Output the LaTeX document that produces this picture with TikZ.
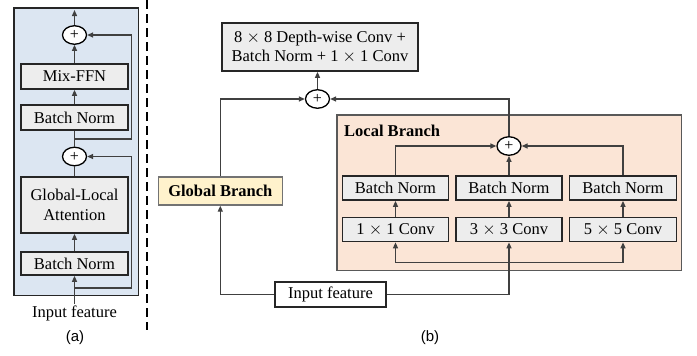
\documentclass[tikz,border=0pt]{standalone}
\usepackage{fontspec}
\setmainfont{Liberation Serif}
\setsansfont{Liberation Sans}
\usetikzlibrary{shapes.geometric,arrows.meta}
\definecolor{panelblue}{HTML}{DCE6F2}
\definecolor{boxgray}{HTML}{EDEDED}
\definecolor{peach}{HTML}{FBE5D6}
\definecolor{paleyellow}{HTML}{FFF2CC}
\definecolor{linegray}{HTML}{404040}
\tikzset{
  txt/.style={font=\fontsize{16.5}{19.5}\selectfont},
  gbox/.style={txt, draw=black!85, line width=1.7pt, fill=boxgray, inner sep=0pt, align=center},
  plusnode/.style={ellipse, draw=black, line width=1.3pt, fill=white, minimum width=24pt, minimum height=18.5pt, inner sep=0pt, font=\fontsize{16}{16}\selectfont},
  conn/.style={draw=linegray, line width=1.3pt},
  arr/.style={conn, -{Triangle[length=6pt,width=5pt]}},
}
\begin{document}
\begin{tikzpicture}[x=1pt,y=-1pt]
\useasboundingbox (0,0) rectangle (697,356);
% ---------- panel (a)
\draw[fill=panelblue, draw=black!85, line width=1.7pt] (14,8) rectangle (138.5,295.5);
\node[gbox, minimum width=107pt, minimum height=25pt] (mix) at (74.5,76.5) {Mix-FFN};
\node[gbox, minimum width=107pt, minimum height=25pt] (bnA1) at (74.5,117.5) {Batch Norm};
\node[gbox, minimum width=107pt, minimum height=56pt] (gla) at (74.5,205) {Global-Local\\Attention};
\node[gbox, minimum width=107pt, minimum height=23pt] (bnA2) at (74.5,263.5) {Batch Norm};
\node[plusnode] (pA1) at (74.5,35) {+};
\node[plusnode] (pA2) at (74.5,156.5) {+};
\node[txt, inner sep=1pt] (inA) at (74.5,313) {Input feature};
\node[font=\sffamily\fontsize{15}{15}\selectfont] (labA) at (75,338) {(a)};
\coordinate (j1) at (74.5,288);
\coordinate (j2) at (74.5,139);
\coordinate (topA) at (74.5,10);
\draw[arr] (inA.north) -- (bnA2.south);
\draw[arr] (j1) -- (131.5,288) |- (pA2.east);
\draw[arr] (bnA2.north) -- (gla.south);
\draw[conn] (gla.north) -- (pA2.south);
\draw[conn] (pA2.north) -- (bnA1.south);
\draw[arr] (j2) -- (131.5,139) |- (pA1.east);
\draw[arr] (bnA1.north) -- (mix.south);
\draw[arr] (mix.north) -- (pA1.south);
\draw[arr] (pA1.north) -- (topA);
% ---------- separator
\draw[black, line width=1.7pt, dash pattern=on 9pt off 5pt] (147,0) -- (147,330);
% ---------- panel (b)
\draw[fill=peach, draw=black!65, line width=1.5pt] (337,115) rectangle (681.5,270.5);
\node[txt, font=\fontsize{16.5}{19.5}\selectfont\bfseries, anchor=west, inner sep=0pt] (lbt) at (344,131) {Local Branch};
\node[gbox, minimum width=196pt, minimum height=48pt] (dw) at (320,47) {8 $\times$ 8 Depth-wise Conv +\\Batch Norm + 1 $\times$ 1 Conv};
\node[plusnode] (pB) at (317.5,99) {+};
\node[gbox, fill=paleyellow, draw=black!55, line width=1.4pt, font=\fontsize{16.5}{19.5}\selectfont\bfseries, minimum width=124pt, minimum height=28pt] (gb) at (220.3,191) {Global Branch};
\node[gbox, fill=white, minimum width=111pt, minimum height=25.5pt] (inB) at (330.5,294.5) {Input feature};
\node[gbox, minimum width=106pt, minimum height=24pt] (bn1) at (395.5,188) {Batch Norm};
\node[gbox, minimum width=106pt, minimum height=24pt] (bn2) at (509,188) {Batch Norm};
\node[gbox, minimum width=107pt, minimum height=24pt] (bn3) at (623,188) {Batch Norm};
\node[gbox, minimum width=106pt, minimum height=24pt] (c1) at (395.5,229.5) {1 $\times$ 1 Conv};
\node[gbox, minimum width=106pt, minimum height=24pt] (c2) at (509,229.5) {3 $\times$ 3 Conv};
\node[gbox, minimum width=107pt, minimum height=24pt] (c3) at (623,229.5) {5 $\times$ 5 Conv};
\node[plusnode] (pL) at (509,146) {+};
\node[font=\sffamily\fontsize{15}{15}\selectfont] (labB) at (430,338) {(b)};
\coordinate (bus) at (509,262.5);
\draw[arr] (bn1.north) |- (pL.west);
\draw[arr] (bn3.north) |- (pL.east);
\draw[arr] (bn2.north) -- (pL.south);
\draw[arr] (c1.north) -- (bn1.south);
\draw[arr] (c2.north) -- (bn2.south);
\draw[arr] (c3.north) -- (bn3.south);
\draw[arr] (inB.east) -| (c2.south);
\draw[arr] (bus) -| (c1.south);
\draw[arr] (bus) -| (c3.south);
\draw[arr] (inB.west) -| (gb.south);
\draw[arr] (gb.north) |- (pB.west);
\draw[arr] (pL.north) |- (pB.east);
\draw[arr] (pB.north) -- (pB.north |- dw.south);
\end{tikzpicture}
\end{document}
